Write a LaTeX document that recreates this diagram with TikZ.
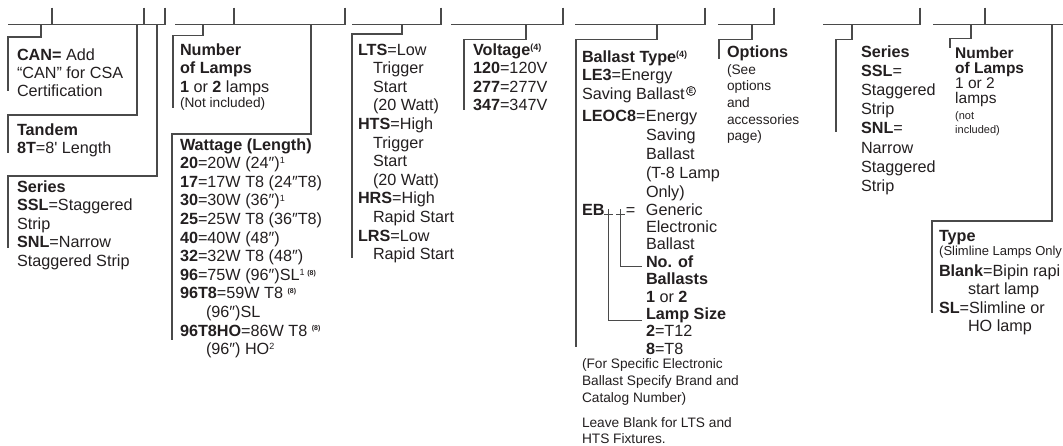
\documentclass[tikz,border=0pt]{standalone}
\usepackage{fontspec}
\setmainfont{Liberation Sans}
\definecolor{txtcol}{HTML}{231F20}
\definecolor{lncol}{HTML}{4A4A4A}
\newcommand\fl{\rule{0pt}{14pt}}
\newcommand\fs{\rule{0pt}{10pt}}
\newcommand\mysup[1]{\raisebox{4.8pt}{\fontsize{9}{9}\selectfont #1}}
\newcommand\mysupb[1]{\raisebox{4.8pt}{\fontsize{9}{9}\selectfont\bfseries #1}}
\newcommand\mytiny[1]{\raisebox{5.2pt}{\fontsize{7}{7}\selectfont\bfseries #1}}
\begin{document}
\begin{tikzpicture}[x=1pt,y=-1pt,
  ln/.style={draw=lncol,line width=1.2pt},
  thin/.style={draw=lncol,line width=1pt},
  txt/.style={anchor=north west,inner sep=0pt,outer sep=0pt,align=left,text=txtcol,font=\fontsize{16.2}{#1}\selectfont},
  txt/.default=18.6,
  sml/.style={anchor=north west,inner sep=0pt,outer sep=0pt,align=left,text=txtcol,font=\fontsize{13.7}{#1}\selectfont},
  sml/.default=16.7]
\useasboundingbox (0,0) rectangle (1063,445);
\clip (0,0) rectangle (1063,445);

% ---------- group 1 ----------
\draw[ln] (8,24.5) -- (165,24.5);
\foreach \x in {52,144,165} \draw[ln] (\x,7.5) -- (\x,24.5);
\draw[ln] (41,24.5) -- (41,37) -- (8,37) -- (8,91);
\draw[ln] (137,24.5) -- (137,115) -- (8,115) -- (8,153);
\draw[ln] (157,24.5) -- (157,176) -- (8,176) -- (8,248);
\node[txt=18.4] (can) at (17,46) {\fl\textbf{CAN=} Add\\“CAN” for CSA\\Certification};
\node[txt] (tandem) at (17,121) {\fl\textbf{Tandem}\\\textbf{8T}=8\textquotesingle{} Length};
\node[txt] (seriesA) at (17,178) {\fl\textbf{Series}\\\textbf{SSL}=Staggered\\Strip\\\textbf{SNL}=Narrow\\Staggered Strip};

% ---------- group 2 ----------
\draw[ln] (175,24.5) -- (345,24.5);
\foreach \x in {234,345} \draw[ln] (\x,7.5) -- (\x,24.5);
\draw[ln] (203,24.5) -- (203,35.5) -- (173,35.5) -- (173,108);
\draw[ln] (311,24.5) -- (311,134) -- (172,134) -- (172,340);
\node[txt=18.5] (nlamps) at (180,41) {\fl\textbf{Number}\\\textbf{of Lamps}\\\textbf{1} or \textbf{2} lamps};
\node[sml] (nlampsnote) at (180,97.5) {\fs(Not included)};
\node[txt] (watt) at (180,136) {\fl\textbf{Wattage (Length)}\\
\textbf{20}=20W (24″)\mysup{1}\\
\textbf{17}=17W T8 (24″T8)\\
\textbf{30}=30W (36″)\mysup{1}\\
\textbf{25}=25W T8 (36″T8)\\
\textbf{40}=40W (48″)\\
\textbf{32}=32W T8 (48″)\\
\textbf{96}=75W (96″)SL\mysup{1}\,\mytiny{(8)}\\
\textbf{96T8}=59W T8 \mytiny{(8)}\\
\hspace*{26pt}(96″)SL\\
\textbf{96T8HO}=86W T8 \mytiny{(8)}\\
\hspace*{26pt}(96″) HO\mysup{2}};

% ---------- group 3 ----------
\draw[ln] (352,24.5) -- (441,24.5);
\draw[ln] (441,7.5) -- (441,24.5);
\draw[ln] (402,24.5) -- (402,34) -- (352,34) -- (352,258);
\node[txt] (lts) at (358,41) {\fl\textbf{LTS}=Low\\\hspace*{15pt}Trigger\\\hspace*{15pt}Start\\\hspace*{15pt}(20 Watt)\\
\textbf{HTS}=High\\\hspace*{15pt}Trigger\\\hspace*{15pt}Start\\\hspace*{15pt}(20 Watt)\\
\textbf{HRS}=High\\\hspace*{15pt}Rapid Start\\
\textbf{LRS}=Low\\\hspace*{15pt}Rapid Start};

% ---------- group 4 ----------
\draw[ln] (451,24.5) -- (563,24.5);
\draw[ln] (563,7.5) -- (563,24.5);
\draw[ln] (526,24.5) -- (526,39.5) -- (464,39.5) -- (464,110);
\node[txt] (volt) at (473,41) {\fl\textbf{Voltage}\mysupb{(4)}\\\textbf{120}=120V\\\textbf{277}=277V\\\textbf{347}=347V};

% ---------- group 5 ----------
\draw[ln] (575,24.5) -- (705,24.5);
\draw[ln] (705,7.5) -- (705,24.5);
\draw[ln] (657,24.5) -- (657,39.5) -- (576,39.5) -- (576,347);
\node[txt=18.8] (balA) at (582,48) {\fl\textbf{Ballast Type}\mysupb{(4)}\\
\textbf{LE3}=Energy\\
Saving Ballast\\[3.5pt]
\makebox[64pt][l]{\textbf{LEOC8}=}Energy\\
\hspace*{64pt}Saving\\
\hspace*{64pt}Ballast\\
\hspace*{64pt}(T-8 Lamp\\
\hspace*{64pt}Only)};
\node[circle,draw=txtcol,line width=0.8pt,inner sep=0pt,minimum size=9pt,text=txtcol,font=\fontsize{6.5}{6.5}\selectfont\bfseries] (ecirc) at (691,91) {E};
\node[txt=17.4] (balB) at (582,201) {\fl\makebox[64pt][l]{\textbf{EB}\hspace*{21.4pt}=}Generic\\
\hspace*{64pt}Electronic\\
\hspace*{64pt}Ballast\\
\hspace*{64pt}\textbf{No. of}\\
\hspace*{64pt}\textbf{Ballasts}\\
\hspace*{64pt}\textbf{1} or \textbf{2}\\
\hspace*{64pt}\textbf{Lamp Size}\\
\hspace*{64pt}\textbf{2}=T12\\
\hspace*{64pt}\textbf{8}=T8};
\draw[thin] (604,214.5) -- (613,214.5);
\draw[thin] (616,214.5) -- (625,214.5);
\draw[thin] (608.5,209) -- (608.5,320) -- (642,320);
\draw[thin] (620.5,209) -- (620.5,266) -- (642,266);
\node[sml=16.8] (noteA) at (582,358.5) {\fs(For Specific Electronic\\Ballast Specify Brand and\\Catalog Number)};
\node[sml=15.6] (noteB) at (582,417.5) {\fs Leave Blank for LTS and\\HTS Fixtures.};

% ---------- group 6 ----------
\draw[ln] (718,24.5) -- (774,24.5);
\draw[ln] (774,7.5) -- (774,24.5);
\draw[ln] (752,24.5) -- (752,39.5) -- (719,39.5) -- (719,59);
\node[txt] (opt) at (727,43) {\fl\textbf{Options}};
\node[sml] (optnote) at (727,64) {\fs(See\\options\\and\\accessories\\page)};

% ---------- group 7 ----------
\draw[ln] (823,24.5) -- (920,24.5);
\draw[ln] (920,7.5) -- (920,24.5);
\draw[ln] (852,24.5) -- (852,39.5) -- (836,39.5) -- (836,132);
\node[txt=19.1] (seriesB) at (861,43.5) {\fl\textbf{Series}\\\textbf{SSL}=\\Staggered\\Strip\\\textbf{SNL}=\\Narrow\\Staggered\\Strip};

% ---------- group 8 ----------
\draw[ln] (933,24.5) -- (1063,24.5);
\draw[ln] (985,7.5) -- (985,24.5);
\draw[ln] (971,24.5) -- (971,38.5) -- (950,38.5) -- (950,48);
\draw[ln] (1052,24.5) -- (1052,221) -- (932,221) -- (932,313);
\node[anchor=north west,inner sep=0pt,align=left,text=txtcol,font=\fontsize{15.5}{15}\selectfont] (numB) at (955,44) {\fl\textbf{Number}\\\textbf{of Lamps}\\1 or 2\\lamps};
\node[anchor=north west,inner sep=0pt,align=left,text=txtcol,font=\fontsize{11}{14.5}\selectfont] (numBnote) at (955,109) {\fs(not\\included)};
\node[txt] (type) at (939,227) {\fl\textbf{Type}};
\node[anchor=north west,inner sep=0pt,align=left,text=txtcol,font=\fontsize{13}{16}\selectfont] (typenote) at (939,245.5) {\fs(Slimline Lamps Only};
\node[txt] (typeopts) at (939,262) {\fl\textbf{Blank}=Bipin rapi\\\hspace*{29pt}start lamp\\\textbf{SL}=Slimline or\\\hspace*{29pt}HO lamp};
\end{tikzpicture}
\end{document}
